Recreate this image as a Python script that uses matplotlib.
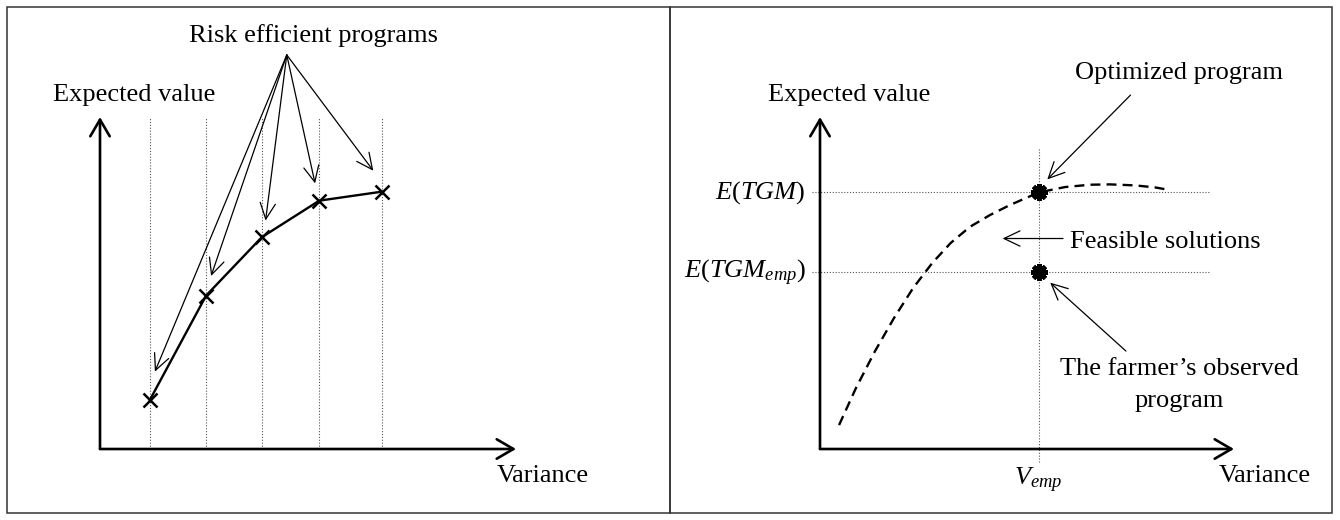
import matplotlib
matplotlib.use('Agg')
import matplotlib.pyplot as plt
from matplotlib.patches import Rectangle

plt.rcParams['font.family'] = ['Liberation Serif', 'DejaVu Serif']
plt.rcParams['mathtext.fontset'] = 'custom'
plt.rcParams['mathtext.rm'] = 'Liberation Serif'
plt.rcParams['mathtext.it'] = 'Liberation Serif:italic'
plt.rcParams['font.size'] = 19

# ---------------- data (arbitrary units, axes span 0..100) ----------------
# Left panel: risk efficient programs (variance, expected value)
prog_var = [12.0, 25.5, 38.9, 52.7, 67.7]
prog_ev = [14.8, 46.2, 63.8, 74.8, 77.5]
# arrow tips pointing at each program
tip_var = [13.2, 26.7, 39.8, 51.7, 65.7]
tip_ev = [23.3, 52.1, 68.8, 80.0, 83.8]
label_var, label_ev = 44.9, 118.7

# Right panel: feasible frontier (dashed)
frontier_var = [4.6, 8.7, 13.3, 17.9, 22.5, 27.1, 31.6, 36.2, 41.1, 45.9,
                52.9, 59.2, 65.2, 70.1, 76.1, 80.9, 84.5]
frontier_ev = [7.2, 18.4, 29.5, 39.5, 48.5, 56.0, 62.1, 66.9, 70.5, 73.5,
               77.3, 78.9, 79.6, 79.7, 79.4, 78.8, 78.0]
v_emp = 52.8
e_tgm = 77.3
e_tgm_emp = 53.2

W, H = 1340, 520
fig = plt.figure(figsize=(W / 100, H / 100), dpi=100)
fig.patch.set_facecolor('white')

# panel frames
frame_kw = dict(transform=fig.transFigure, fill=False, edgecolor='#333333', lw=1.1)
fig.add_artist(Rectangle((7 / W, 7 / H), (669.5 - 7) / W, (513 - 7) / H, **frame_kw))
fig.add_artist(Rectangle((669.5 / W, 7 / H), (1332 - 669.5) / W, (513 - 7) / H, **frame_kw))

axis_arrow = dict(arrowstyle='->,head_length=1.2,head_width=0.7', lw=1.9,
                  color='black', shrinkA=0, shrinkB=0, mutation_scale=10)
thin_arrow = dict(arrowstyle='->,head_length=1.15,head_width=0.55', lw=0.9,
                  color='black', shrinkA=0, shrinkB=0, mutation_scale=10)
dot_kw = dict(color='#555555', lw=0.8, linestyle=(0, (1, 1.6)))


def make_axes(left_px, width_px):
    ax = fig.add_axes([left_px / W, (H - 449) / H, width_px / W, 332 / H])
    ax.set_xlim(0, 100)
    ax.set_ylim(0, 100)
    ax.axis('off')
    ax.annotate('', xy=(100, 0), xytext=(0, 0), arrowprops=axis_arrow,
                annotation_clip=False)
    ax.annotate('', xy=(0, 100), xytext=(0, 0), arrowprops=axis_arrow,
                annotation_clip=False)
    return ax


# ---------------- left panel ----------------
axL = make_axes(100, 416)
for v in prog_var:
    axL.plot([v, v], [0, 100], **dot_kw, clip_on=False)
axL.plot(prog_var, prog_ev, color='black', lw=1.7, marker='x', ms=10, mew=1.8,
         zorder=5, clip_on=False)
for tv, te in zip(tip_var, tip_ev):
    axL.annotate('', xy=(tv, te), xytext=(label_var, label_ev),
                 arrowprops=thin_arrow, annotation_clip=False)
axL.text(51.3, 122.6, 'Risk efficient programs', ha='center', va='baseline')
axL.text(-11.4, 104.7, 'Expected value', ha='left', va='baseline')
axL.text(95.4, -9.85, 'Variance', ha='left', va='baseline')

# ---------------- right panel ----------------
axR = make_axes(820, 414)
axR.plot([-1.9, 94.2], [e_tgm, e_tgm], **dot_kw, clip_on=False)
axR.plot([-1.9, 94.2], [e_tgm_emp, e_tgm_emp], **dot_kw, clip_on=False)
axR.plot([v_emp, v_emp], [-3.8, 90.6], **dot_kw, clip_on=False)
axR.plot(frontier_var, frontier_ev, color='black', lw=1.7,
         linestyle=(0, (4.2, 2.6)), clip_on=False, zorder=3)
axR.plot([v_emp, v_emp], [e_tgm, e_tgm_emp], linestyle='none',
         marker=(8, 2, 0), ms=12, mew=3.2, color='black', zorder=6, clip_on=False)

axR.annotate('', xy=(54.9, 81.2), xytext=(75.0, 106.6), arrowprops=thin_arrow,
             annotation_clip=False)
axR.annotate('', xy=(44.1, 63.4), xytext=(58.7, 63.4), arrowprops=thin_arrow,
             annotation_clip=False)
axR.annotate('', xy=(55.6, 50.1), xytext=(73.9, 29.5), arrowprops=thin_arrow,
             annotation_clip=False)

axR.text(-12.5, 104.7, 'Expected value', ha='left', va='baseline')
axR.text(61.6, 111.4, 'Optimized program', ha='left', va='baseline')
axR.text(60.4, 60.45, 'Feasible solutions', ha='left', va='baseline')
axR.text(86.7, 22.3, 'The farmer\u2019s observed', ha='center', va='baseline')
axR.text(86.7, 12.7, 'program', ha='center', va='baseline')
axR.text(-3.4, 75.45, r'$E(TGM)$', ha='right', va='baseline')
axR.text(-3.4, 51.4, r'$E(TGM_{emp})$', ha='right', va='baseline')
axR.text(v_emp, -11.1, r'$V_{emp}$', ha='center', va='baseline')
axR.text(96.4, -9.85, 'Variance', ha='left', va='baseline')

fig.savefig('out.png', dpi=100)
